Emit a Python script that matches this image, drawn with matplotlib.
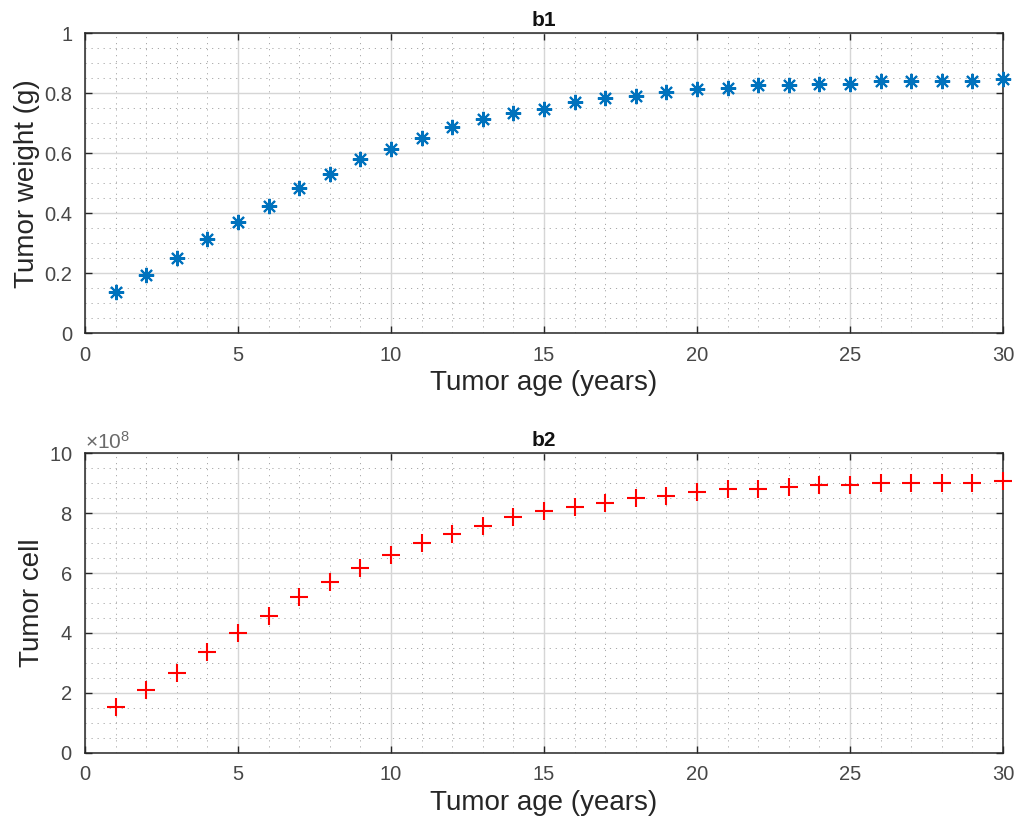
import matplotlib
matplotlib.use("Agg")
import matplotlib.pyplot as plt
from matplotlib.ticker import MultipleLocator, ScalarFormatter

plt.rcParams['font.family'] = ['Liberation Sans', 'DejaVu Sans']
plt.rcParams['mathtext.fontset'] = 'custom'
plt.rcParams['mathtext.rm'] = 'Liberation Sans'

# Tumor age in years
age = list(range(1, 31))

# Tumor weight (g) per year
weight = [0.139, 0.194, 0.252, 0.314, 0.370, 0.425, 0.483, 0.531, 0.580, 0.614,
          0.652, 0.687, 0.713, 0.735, 0.749, 0.770, 0.785, 0.791, 0.805, 0.813,
          0.819, 0.827, 0.827, 0.832, 0.832, 0.841, 0.841, 0.841, 0.841, 0.847]

# Tumor cell count per year
cells = [1.54e8, 2.09e8, 2.67e8, 3.37e8, 4.01e8, 4.57e8, 5.21e8, 5.69e8, 6.18e8, 6.61e8,
         7.02e8, 7.30e8, 7.57e8, 7.86e8, 8.07e8, 8.22e8, 8.35e8, 8.50e8, 8.58e8, 8.70e8,
         8.80e8, 8.80e8, 8.87e8, 8.94e8, 8.94e8, 9.00e8, 9.00e8, 9.00e8, 9.00e8, 9.08e8]

TEXT = '#262626'
TICK_TEXT = '#474747'
W, H = 1017, 834

fig = plt.figure(figsize=(W / 100, H / 100), dpi=100)
ax1 = fig.add_axes([85 / W, (H - 333.3) / H, 918 / W, 300 / H])
ax2 = fig.add_axes([85 / W, (H - 752.7) / H, 918 / W, 299.4 / H])


def style(ax, ymajor, yminor):
    ax.set_xlim(0, 30)
    ax.xaxis.set_major_locator(MultipleLocator(5))
    ax.xaxis.set_minor_locator(MultipleLocator(1))
    ax.yaxis.set_major_locator(MultipleLocator(ymajor))
    ax.yaxis.set_minor_locator(MultipleLocator(yminor))
    ax.grid(which='major', color='#d6d6d6', linewidth=1.0, linestyle='-')
    ax.grid(which='minor', color='#a8a8a8', linewidth=0.7, linestyle=(0, (1.2, 5.0)))
    ax.set_axisbelow(True)
    ax.tick_params(which='major', direction='in', length=5, width=1.0,
                   top=True, right=True, labelsize=14.5, labelcolor=TICK_TEXT,
                   color=TEXT, pad=9)
    ax.tick_params(which='minor', length=0, top=True, right=True)
    for s in ax.spines.values():
        s.set_linewidth(1.1)
        s.set_color(TEXT)
    ax.set_xlabel('Tumor age (years)', fontsize=20, color=TEXT, labelpad=4)


ax1.plot(age, weight, linestyle='none', marker=(8, 2, 0), markersize=11,
         markeredgewidth=1.5, color='#0072BD', clip_on=False, zorder=3)
style(ax1, 0.2, 0.05)
ax1.set_ylim(0, 1)
ax1.set_yticks([0, 0.2, 0.4, 0.6, 0.8, 1])
ax1.set_yticklabels(['0', '0.2', '0.4', '0.6', '0.8', '1'])
ax1.set_ylabel('Tumor weight (g)', fontsize=20, color=TEXT, labelpad=3)
ax1.set_title('b1', fontsize=15, fontweight='bold', color='#111111', pad=5)

ax2.plot(age, cells, linestyle='none', marker='+', markersize=13,
         markeredgewidth=1.5, color='#ff0000', clip_on=False, zorder=3)
style(ax2, 2e8, 0.5e8)
ax2.set_ylim(0, 1e9)
fmt = ScalarFormatter(useMathText=True)
fmt.set_powerlimits((8, 8))
ax2.yaxis.set_major_formatter(fmt)
ax2.yaxis.get_offset_text().set_fontsize(15)
ax2.yaxis.get_offset_text().set_color('#6a6a6a')
ax2.set_ylabel('Tumor cell', fontsize=20, color=TEXT, labelpad=3)
ax2.set_title('b2', fontsize=15, fontweight='bold', color='#111111', pad=5)

fig.savefig('out.png', dpi=100, facecolor='white')
